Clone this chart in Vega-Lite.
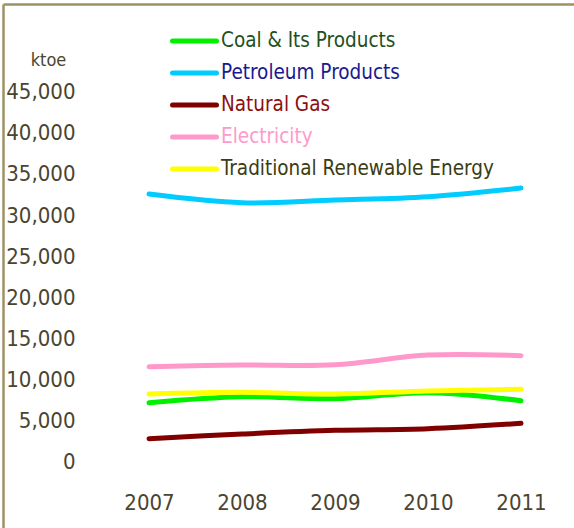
{
  "$schema": "https://vega.github.io/schema/vega-lite/v6.json",
  "width": 571,
  "height": 524,
  "autosize": {"type": "none"},
  "padding": {"left": 3, "top": 4, "right": 0, "bottom": 0},
  "background": "white",
  "config": {"view": {"stroke": null}, "font": "DejaVu Sans Condensed"},
  "data": {
    "values": [
      {"year": 2007, "series": "Coal & Its Products", "value": 7210},
      {"year": 2008, "series": "Coal & Its Products", "value": 7930},
      {"year": 2009, "series": "Coal & Its Products", "value": 7690},
      {"year": 2010, "series": "Coal & Its Products", "value": 8420},
      {"year": 2011, "series": "Coal & Its Products", "value": 7450},
      {"year": 2007, "series": "Petroleum Products", "value": 32560},
      {"year": 2008, "series": "Petroleum Products", "value": 31510},
      {"year": 2009, "series": "Petroleum Products", "value": 31830},
      {"year": 2010, "series": "Petroleum Products", "value": 32240},
      {"year": 2011, "series": "Petroleum Products", "value": 33290},
      {"year": 2007, "series": "Natural Gas", "value": 2830},
      {"year": 2008, "series": "Natural Gas", "value": 3400},
      {"year": 2009, "series": "Natural Gas", "value": 3850},
      {"year": 2010, "series": "Natural Gas", "value": 4050},
      {"year": 2011, "series": "Natural Gas", "value": 4700},
      {"year": 2007, "series": "Electricity", "value": 11580},
      {"year": 2008, "series": "Electricity", "value": 11790},
      {"year": 2009, "series": "Electricity", "value": 11820},
      {"year": 2010, "series": "Electricity", "value": 13000},
      {"year": 2011, "series": "Electricity", "value": 12920},
      {"year": 2007, "series": "Traditional Renewable Energy", "value": 8260},
      {"year": 2008, "series": "Traditional Renewable Energy", "value": 8470},
      {"year": 2009, "series": "Traditional Renewable Energy", "value": 8260},
      {"year": 2010, "series": "Traditional Renewable Energy", "value": 8630},
      {"year": 2011, "series": "Traditional Renewable Energy", "value": 8830}
    ]
  },
  "mark": {"type": "line", "interpolate": "catmull-rom", "strokeWidth": 5, "strokeCap": "round"},
  "encoding": {
    "x": {
      "field": "year",
      "type": "quantitative",
      "scale": {"domain": [2005.43, 2011.57], "nice": false, "zero": false},
      "axis": {
        "orient": "top",
        "values": [2007, 2008, 2009, 2010, 2011],
        "format": "d",
        "grid": false,
        "ticks": false,
        "tickSize": 0,
        "domain": true,
        "domainColor": "#9c9266",
        "domainWidth": 2.5,
        "labelPadding": -498,
        "labelBaseline": "middle",
        "labelFontSize": 22,
        "labelColor": "#4a4430",
        "labelFlush": false,
        "labelOverlap": false,
        "title": null
      }
    },
    "y": {
      "field": "value",
      "type": "quantitative",
      "scale": {"domain": [-8021, 55658], "nice": false, "zero": false},
      "axis": {
        "values": [0, 5000, 10000, 15000, 20000, 25000, 30000, 35000, 40000, 45000],
        "format": ",d",
        "grid": false,
        "ticks": false,
        "tickSize": 0,
        "domain": true,
        "domainColor": "#9c9266",
        "domainWidth": 2.5,
        "labelPadding": -72,
        "labelAlign": "right",
        "labelBaseline": "middle",
        "labelFontSize": 22,
        "labelColor": "#4a4430",
        "labelFlush": false,
        "labelOverlap": false,
        "title": "ktoe",
        "titleAngle": 0,
        "titleX": 45,
        "titleY": 56,
        "titleAlign": "center",
        "titleBaseline": "middle",
        "titleFontSize": 18,
        "titleFontWeight": "normal",
        "titleColor": "#4a4430"
      }
    },
    "color": {
      "field": "series",
      "type": "nominal",
      "sort": ["Coal & Its Products", "Petroleum Products", "Natural Gas", "Electricity", "Traditional Renewable Energy"],
      "scale": {
        "domain": ["Coal & Its Products", "Petroleum Products", "Natural Gas", "Electricity", "Traditional Renewable Energy"],
        "range": ["#00f000", "#00ccff", "#800000", "#ff99cc", "#ffff00"]
      },
      "legend": {
        "orient": "none",
        "legendX": 167,
        "legendY": 21,
        "title": null,
        "symbolType": "stroke",
        "symbolSize": 1936,
        "symbolStrokeWidth": 5,
        "labelFontSize": 20.5,
        "labelOffset": 2,
        "clipHeight": 32,
        "rowPadding": 0,
        "labelLimit": 400,
        "encode": {
          "labels": {"update": {"fill": {"signal": "datum.value === 'Coal & Its Products' ? '#1e501e' : datum.value === 'Petroleum Products' ? '#1a1a8f' : datum.value === 'Natural Gas' ? '#8b1010' : datum.value === 'Electricity' ? '#ff99cc' : '#3c3c14'"}}},
          "symbols": {"update": {"strokeCap": {"value": "round"}}}
        }
      }
    }
  }
}
